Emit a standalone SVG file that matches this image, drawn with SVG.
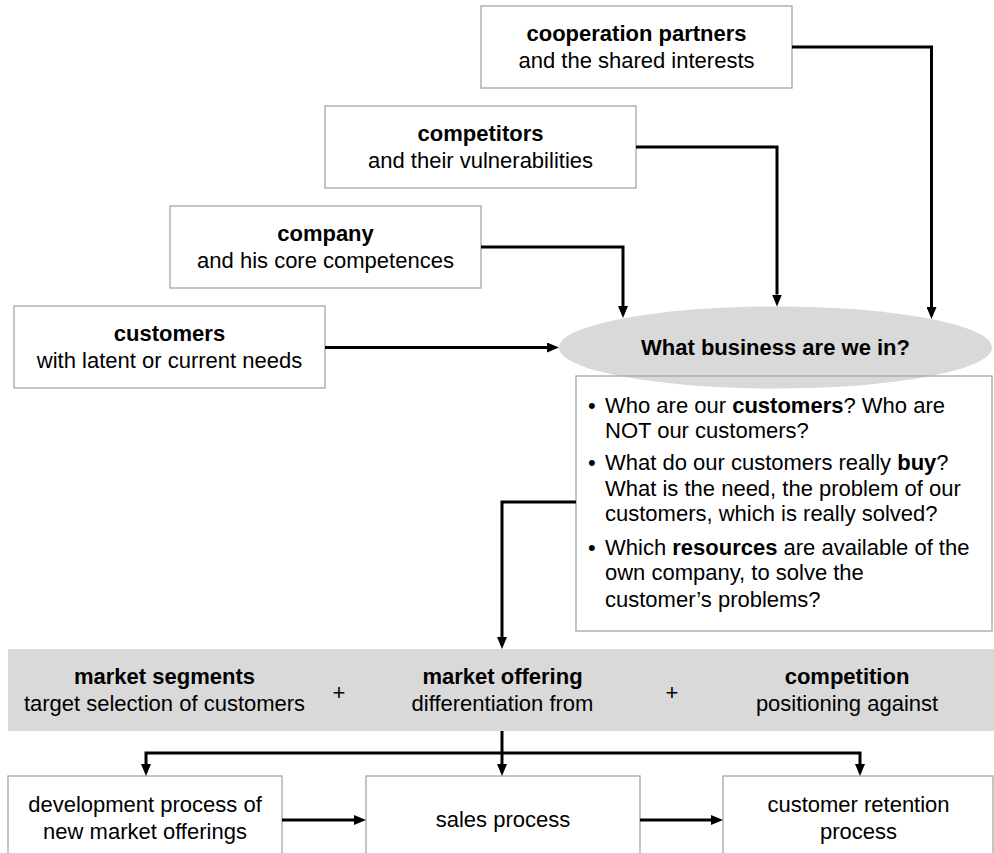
<svg xmlns="http://www.w3.org/2000/svg" width="994" height="853" viewBox="0 0 994 853">
<style>
text{font-family:"Liberation Sans",Arial,sans-serif;font-size:22px;fill:#000}
.c{text-anchor:middle}
.b{font-weight:bold}
.box{fill:#fff;stroke:#a6a6a6;stroke-width:1.3}
.band{fill:#d9d9d9}
.con{fill:none;stroke:#000;stroke-width:3;stroke-linejoin:miter}
</style>
<defs>
<marker id="ah" viewBox="0 0 12 10" markerUnits="userSpaceOnUse" markerWidth="12" markerHeight="10" refX="0" refY="5" orient="auto">
<path d="M0,0 L12,5 L0,10 z" fill="#000"/>
</marker>
</defs>
<rect width="994" height="853" fill="#fff"/>
<g id="coop"><rect class="box" x="481" y="6" width="311" height="82"/>
<text class="c b" x="636.5" y="41">cooperation partners</text>
<text class="c" x="636.5" y="68">and the shared interests</text></g>
<g id="competitors"><rect class="box" x="325" y="106" width="311" height="82"/>
<text class="c b" x="480.5" y="141">competitors</text>
<text class="c" x="480.5" y="168">and their vulnerabilities</text></g>
<g id="company"><rect class="box" x="170" y="206" width="311" height="82"/>
<text class="c b" x="325.5" y="241">company</text>
<text class="c" x="325.5" y="268">and his core competences</text></g>
<g id="customers"><rect class="box" x="14" y="306" width="311" height="82"/>
<text class="c b" x="169.5" y="341">customers</text>
<text class="c" x="169.5" y="368">with latent or current needs</text></g>
<g id="business"><ellipse cx="775.5" cy="347.5" rx="216.5" ry="41" fill="#d9d9d9"/>
<text class="c b" x="775.5" y="355">What business are we in?</text></g>
<g id="questions"><rect x="576" y="376" width="416" height="255" fill="none" stroke="#a6a6a6" stroke-width="1.3"/>
<text x="588" y="413">•</text><text x="605" y="413">Who are our <tspan class="b">customers</tspan>? Who are</text>
<text x="605" y="438">NOT our customers?</text>
<text x="588" y="470">•</text><text x="605" y="470">What do our customers really <tspan class="b">buy</tspan>?</text>
<text x="605" y="496">What is the need, the problem of our</text>
<text x="605" y="521">customers, which is really solved?</text>
<text x="588" y="555">•</text><text x="605" y="555">Which <tspan class="b">resources</tspan> are available of the</text>
<text x="605" y="580">own company, to solve the</text>
<text x="605" y="607">customer’s problems?</text></g>
<g id="strategy"><rect class="band" x="8" y="649" width="986" height="82"/>
<text class="c b" x="164.5" y="684">market segments</text>
<text class="c" x="164.5" y="711">target selection of customers</text>
<text class="c" x="339" y="700">+</text>
<text class="c b" x="502.5" y="684">market offering</text>
<text class="c" x="502.5" y="711">differentiation from</text>
<text class="c" x="672" y="700">+</text>
<text class="c b" x="847" y="684">competition</text>
<text class="c" x="847" y="711">positioning against</text></g>
<g id="development"><rect class="box" x="8" y="776" width="274" height="90"/>
<text class="c" x="145" y="812">development process of</text>
<text class="c" x="145" y="839">new market offerings</text></g>
<g id="sales"><rect class="box" x="366" y="776" width="274" height="90"/>
<text class="c" x="503" y="827">sales process</text></g>
<g id="retention"><rect class="box" x="723" y="776" width="270" height="90"/>
<text class="c" x="858.5" y="812">customer retention</text>
<text class="c" x="858.5" y="839">process</text></g>
<g id="connectors">
<path class="con" d="M792,47 H931.5 V307" marker-end="url(#ah)"/>
<path class="con" d="M636,147 H777 V294.5" marker-end="url(#ah)"/>
<path class="con" d="M481,247 H623 V306" marker-end="url(#ah)"/>
<path class="con" d="M325,347.5 H547" marker-end="url(#ah)"/>
<path class="con" d="M576,502 H502 V637" marker-end="url(#ah)"/>
<path class="con" d="M502,731 V764" marker-end="url(#ah)"/>
<path class="con" d="M502,753 H146 V764" marker-end="url(#ah)"/>
<path class="con" d="M502,753 H860 V764" marker-end="url(#ah)"/>
<path class="con" d="M282,820 H354" marker-end="url(#ah)"/>
<path class="con" d="M640,820 H711" marker-end="url(#ah)"/>
</g>
</svg>
